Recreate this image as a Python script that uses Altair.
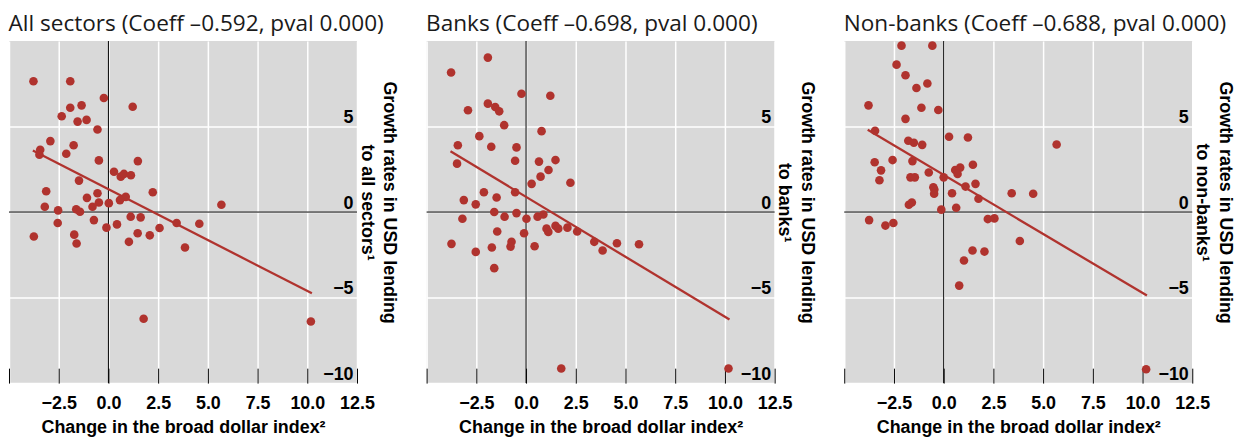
import altair as alt
import pandas as pd

RED = "#b0332e"
XTITLE = "Change in the broad dollar index\u00b2"

# ---- All sectors ----
all_x = [-3.77, -1.92, -0.23, 1.22, -1.35, -1.92, -2.35, -1.55, -1.10, -0.55,
         -2.92, -3.43, -3.47, -1.75, -2.12, -0.48, 1.48, 0.28, 0.62, 0.78,
         1.13, -1.48, -3.13, 2.23, -0.55, -1.08, 0.87, 0.58, -0.48, 0.02,
         -0.80, -3.20, 5.68, -2.53, -1.62, -1.43, 1.12, 1.62, -0.73, -2.55,
         0.43, -0.10, 3.43, 4.57, 2.57, -3.75, -1.72, 1.47, 2.08, 1.03,
         -1.60, 3.85, 1.77, 10.18]
all_y = [7.65, 7.65, 6.67, 6.16, 6.24, 6.10, 5.60, 5.29, 5.39, 4.83,
         4.15, 3.64, 3.35, 3.91, 3.41, 3.02, 2.98, 2.36, 2.07, 2.23,
         2.15, 1.84, 1.22, 1.16, 1.10, 0.83, 0.89, 0.70, 0.56, 0.52,
         0.31, 0.31, 0.43, 0.10, 0.16, 0.02, -0.27, -0.31, -0.47, -0.64,
         -0.72, -0.91, -0.64, -0.68, -0.93, -1.43, -1.32, -1.24, -1.36, -1.74,
         -1.84, -2.07, -6.24, -6.40]
all_line_x = [-3.80, 10.23]
all_line_y = [3.60, -4.75]

# ---- Banks ----
banks_x = [-3.77, -1.92, -0.23, 1.22, -2.92, -1.92, -1.55, -1.35, -1.10, 0.78,
           -2.35, -3.43, -1.75, -0.48, -3.47, -0.55, 0.65, 1.48, 1.13, 0.73,
           0.28, 2.23, -2.12, -0.55, -1.48, -3.13, -2.53, -1.60, -0.48, -1.08,
           0.87, 0.58, -3.20, 0.02, 1.03, 1.12, 1.48, 1.62, 2.08, 2.57,
           -1.45, -0.10, 3.43, 4.57, 5.68, -3.75, -0.73, -0.78, -1.72, 0.43,
           3.85, -2.53, -1.60, 1.77, 10.18]
banks_y = [8.16, 9.03, 6.92, 6.80, 5.95, 6.34, 6.14, 5.89, 5.08, 4.73,
           4.44, 3.91, 3.82, 3.78, 2.83, 3.00, 2.95, 3.04, 2.46, 2.07,
           1.65, 1.71, 1.16, 1.16, 0.85, 0.70, 0.45, 0.00, -0.06, -0.27,
           -0.14, -0.27, -0.39, -0.39, -0.97, -1.16, -0.81, -0.97, -0.91, -1.14,
           -1.14, -1.24, -1.74, -1.82, -1.88, -1.86, -1.74, -2.02, -2.07, -2.00,
           -2.25, -2.33, -3.28, -9.15, -9.15]
banks_line_x = [-3.80, 10.23]
banks_line_y = [3.55, -6.28]

# ---- Non-banks ----
nb_x = [-2.12, -0.57, -2.37, -1.92, -0.82, -1.37, -3.78, -1.12, -0.27, -1.92,
        -3.45, 0.27, 1.22, -1.78, -1.50, -1.08, 5.68, -2.57, -3.47, -1.57,
        -3.15, 1.47, 0.83, 0.58, 0.70, -0.75, -3.23, -1.67, -1.45, 0.00,
        1.60, 1.10, -0.52, -0.47, 0.42, -0.48, 3.42, 4.50, 1.75, -1.60,
        -1.75, -0.12, 0.63, -3.75, -2.53, -2.93, 2.22, 2.55, 3.83, 1.45,
        2.05, 1.02, 0.78, 10.18]
nb_y = [9.73, 9.73, 8.62, 8.00, 7.52, 7.25, 6.24, 6.10, 5.97, 5.45,
        4.75, 4.40, 4.36, 4.17, 4.05, 3.93, 3.95, 3.04, 2.91, 2.98,
        2.44, 2.77, 2.60, 2.46, 2.23, 2.31, 1.86, 2.03, 2.03, 2.03,
        1.65, 1.49, 1.45, 1.32, 1.10, 1.07, 1.10, 1.07, 0.78, 0.56,
        0.43, 0.14, 0.25, -0.47, -0.64, -0.79, -0.41, -0.37, -1.69, -2.25,
        -2.31, -2.83, -4.30, -9.19]
nb_line_x = [-3.82, 10.22]
nb_line_y = [4.81, -4.88]

x_ticks = [-5, -2.5, 0, 2.5, 5, 7.5, 10, 12.5]
y_ticks = [-10, -5, 0, 5]

FONT = "Liberation Sans"


def panel(xs, ys, lx, ly, title, ytitle):
    pts = pd.DataFrame({"x": xs, "y": ys})
    ln = pd.DataFrame({"x": lx, "y": ly})
    xscale = alt.Scale(domain=[-5, 12.5], nice=False, zero=False)
    yscale = alt.Scale(domain=[-10, 10], nice=False, zero=False)
    xaxis = alt.Axis(
        values=x_ticks, grid=True, gridColor="white", gridWidth=1.5,
        ticks=True, tickSize=15, tickColor="black", tickWidth=1,
        offset=-15, domain=False, labelPadding=12, labelFlush=False,
        labelOverlap=False,
        labelExpr="datum.value == -5 ? '' : replace(format(datum.value, '.1f'), '-', '\u2013')",
        titlePadding=6,
    )
    yaxis = alt.Axis(
        orient="right", values=y_ticks, grid=True, gridColor="white", gridWidth=1.5,
        ticks=False, tickSize=0, domain=False, labelAlign="right",
        labelBaseline="bottom", labelPadding=-4, labelOverlap=False, labelFlush=False,
        labelExpr="replace(format(datum.value, 'd'), '-', '\u2013')",
        titlePadding=0, titleLineHeight=23, titleY=162,
    )
    X = alt.X("x:Q", scale=xscale, axis=xaxis, title=XTITLE)
    Y = alt.Y("y:Q", scale=yscale, axis=yaxis, title=ytitle)
    zero_v = alt.Chart(pd.DataFrame({"x": [0]})).mark_rule(color="black", strokeWidth=1).encode(x=X)
    zero_h = alt.Chart(pd.DataFrame({"y": [0]})).mark_rule(color="black", strokeWidth=1).encode(y=Y)
    line = alt.Chart(ln).mark_line(color=RED, strokeWidth=2.3).encode(x=X, y=Y)
    points = alt.Chart(pts).mark_circle(size=75, color=RED, opacity=1).encode(x=X, y=Y)
    return alt.layer(zero_v, zero_h, line, points).properties(
        width=350, height=344,
        title=alt.Title(title, anchor="start", font="Open Sans", fontSize=22.7,
                        fontWeight="normal", color="#1a1a1a", offset=5),
    )


p1 = panel(all_x, all_y, all_line_x, all_line_y,
           "All sectors (Coeff \u20130.592, pval 0.000)",
           ["Growth rates in USD lending", "to all sectors\u00b9"])
p2 = panel(banks_x, banks_y, banks_line_x, banks_line_y,
           "Banks (Coeff \u20130.698, pval 0.000)",
           ["Growth rates in USD lending", "to banks\u00b9"])
p3 = panel(nb_x, nb_y, nb_line_x, nb_line_y,
           "Non-banks (Coeff \u20130.688, pval 0.000)",
           ["Growth rates in USD lending", "to non-banks\u00b9"])

chart = alt.hconcat(p1, p2, p3, spacing=70, bounds="flush").properties(
    padding={"left": 0, "top": 3, "right": 6, "bottom": 0}
).configure_view(
    fill="#d9d9d9", strokeWidth=0
).configure_axis(
    labelFont=FONT, labelFontSize=18, labelFontWeight="bold", labelColor="black",
    titleFont=FONT, titleFontSize=18, titleFontWeight="bold", titleColor="black",
)

chart.save("out.html", embed_options={"renderer": "svg", "actions": False})
